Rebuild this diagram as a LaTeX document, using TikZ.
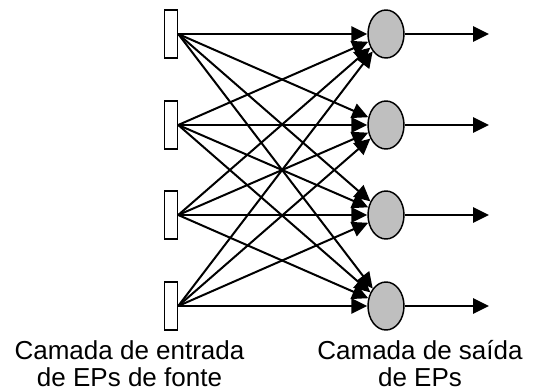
\documentclass[tikz,border=0pt]{standalone}
\usepackage{fontspec}
\setmainfont{Liberation Sans}
\usetikzlibrary{shapes, arrows.meta, positioning}

\begin{document}
\begin{tikzpicture}
  [
    x=0.75pt, y=-0.75pt,
    Source/.style={rectangle, draw=black, fill=white, line width=1.1pt, minimum width=9.75pt, minimum height=36pt, inner sep=0pt},
    Output/.style={ellipse, draw=black, fill=gray!50, line width=1.1pt, minimum width=27pt, minimum height=36pt, inner sep=0pt},
    Link/.style={-{Triangle[length=12pt, width=11.5pt]}, draw, line width=1.5pt},
    Caption/.style={align=center, anchor=north, inner sep=0pt, font=\fontsize{19.5}{20.5}\selectfont}
  ]
  \useasboundingbox (0, 0) rectangle (536, 391);
  % Nodes
  \node[Source] (s1) at(171, 34) {};
  \node[Source] (s2) at(171, 125) {};
  \node[Source] (s3) at(171, 215) {};
  \node[Source] (s4) at(171, 306) {};
  \node[Output] (o1) at(386, 34) {};
  \node[Output] (o2) at(386, 125) {};
  \node[Output] (o3) at(386, 215) {};
  \node[Output] (o4) at(386, 306) {};
  \coordinate (y1) at(489, 34);
  \coordinate (y2) at(489, 125);
  \coordinate (y3) at(489, 215);
  \coordinate (y4) at(489, 306);
  % Captions
  \node[Caption] (in) at(129.5, 340) {Camada de entrada\\de EPs de fonte};
  \node[Caption] (out) at(420, 340) {Camada de saída\\de EPs};
  % Lines
  \path [Link] (s1.east) -- (o1);
  \path [Link] (s1.east) -- (o2);
  \path [Link] (s1.east) -- (o3);
  \path [Link] (s1.east) -- (o4);
  \path [Link] (s2.east) -- (o1);
  \path [Link] (s2.east) -- (o2);
  \path [Link] (s2.east) -- (o3);
  \path [Link] (s2.east) -- (o4);
  \path [Link] (s3.east) -- (o1);
  \path [Link] (s3.east) -- (o2);
  \path [Link] (s3.east) -- (o3);
  \path [Link] (s3.east) -- (o4);
  \path [Link] (s4.east) -- (o1);
  \path [Link] (s4.east) -- (o2);
  \path [Link] (s4.east) -- (o3);
  \path [Link] (s4.east) -- (o4);
  \path [Link] (o1.east) -- (y1);
  \path [Link] (o2.east) -- (y2);
  \path [Link] (o3.east) -- (y3);
  \path [Link] (o4.east) -- (y4);
\end{tikzpicture}
\end{document}
